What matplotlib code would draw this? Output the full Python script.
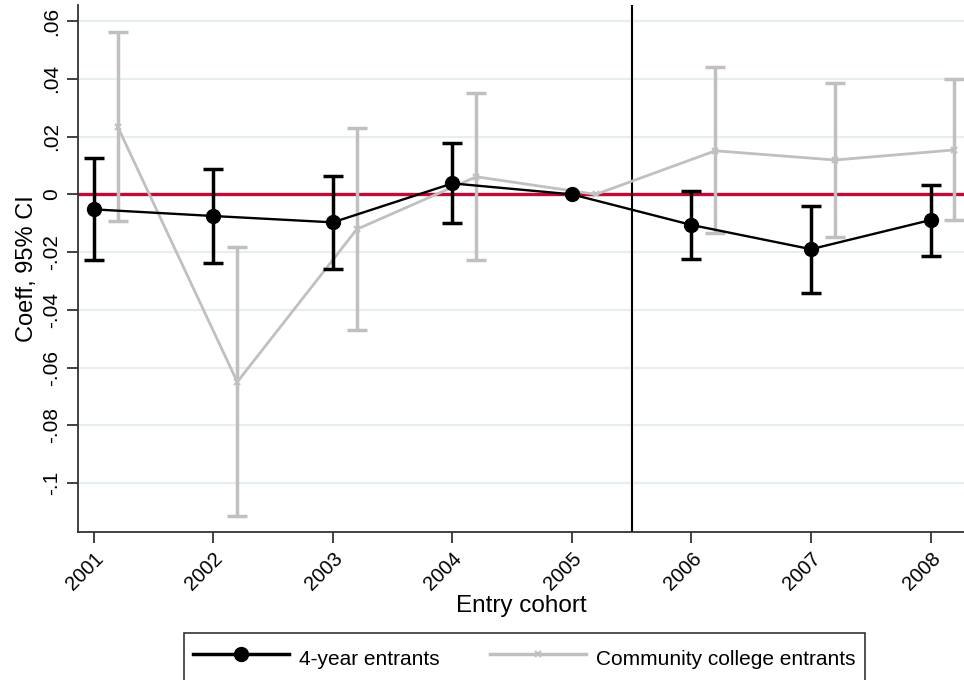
import numpy as np
import matplotlib.pyplot as plt
from matplotlib.lines import Line2D

plt.rcParams['font.family'] = ['Liberation Sans', 'DejaVu Sans']

# event-study coefficients by entry cohort (2005 is the omitted cohort)
years = [2001, 2002, 2003, 2004, 2005, 2006, 2007, 2008]

four_year = [-0.0052, -0.0075, -0.0097, 0.0038, 0.0, -0.0106, -0.0190, -0.0089]
four_year_lo = [-0.0228, -0.0237, -0.0258, -0.0098, 0.0, -0.0225, -0.0343, -0.0213]
four_year_hi = [0.0127, 0.0088, 0.0063, 0.0177, 0.0, 0.0012, -0.0040, 0.0032]

cc = [0.0234, -0.0650, -0.0121, 0.0061, 0.0, 0.0151, 0.0119, 0.0154]
cc_lo = [-0.0091, -0.1115, -0.0470, -0.0228, 0.0, -0.0135, -0.0149, -0.0089]
cc_hi = [0.0564, -0.0184, 0.0229, 0.0350, 0.0, 0.0442, 0.0387, 0.0399]

yticks = [0.06, 0.04, 0.02, 0, -0.02, -0.04, -0.06, -0.08, -0.1]
ytick_labels = ['.06', '.04', '.02', '0', '-.02', '-.04', '-.06', '-.08', '-.1']

GRAY = '#c0c0c0'
RED = '#c20a36'


def draw_series(ax, xs, ys, lo, hi, color, **line_kw):
    xs = np.asarray(xs, dtype=float)
    ys, lo, hi = np.asarray(ys), np.asarray(lo), np.asarray(hi)
    ax.plot(xs, ys, color=color, **line_kw)
    has_ci = lo != hi  # base year carries no interval
    ax.errorbar(xs[has_ci], ys[has_ci],
                yerr=[ys[has_ci] - lo[has_ci], hi[has_ci] - ys[has_ci]],
                fmt='none', ecolor=color, elinewidth=2.5, capsize=7,
                capthick=2.5, zorder=line_kw.get('zorder', 2))


fig = plt.figure(figsize=(9.64, 6.8), dpi=100)
ax = fig.add_axes([0.0812, 0.2176, 0.9188, 0.775])

for y in yticks:
    ax.axhline(y, color='#e6eeee', lw=1.6, zorder=0)
ax.axhline(0, color=RED, lw=2.4, zorder=1)
ax.axvline(2005.5, color='black', lw=1.5, zorder=1)

x = np.array(years, dtype=float)
draw_series(ax, x + 0.2, cc, cc_lo, cc_hi, GRAY,
            lw=2, marker='x', ms=5, mew=1.5, zorder=2)
draw_series(ax, x, four_year, four_year_lo, four_year_hi, 'black',
            lw=1.7, marker='o', ms=10, zorder=3)

ax.set_xlim(2000.87, 2008.28)
ax.set_ylim(-0.117, 0.0656)
ax.set_xticks(years)
ax.set_xticklabels([str(y) for y in years], rotation=45, ha='right',
                   rotation_mode='anchor', fontsize=14.5)
ax.set_yticks(yticks)
ax.set_yticklabels(ytick_labels, rotation=90, va='center', fontsize=15)
ax.tick_params(length=8, width=1.3, color='#333333')
ax.tick_params(axis='y', pad=4)
ax.tick_params(axis='x', pad=4)

for s in ['top', 'right']:
    ax.spines[s].set_visible(False)
for s in ['left', 'bottom']:
    ax.spines[s].set_linewidth(1.3)
    ax.spines[s].set_color('#333333')

ax.set_xlabel('Entry cohort', fontsize=17.5, labelpad=1)
ax.set_ylabel('Coeff, 95% CI', fontsize=17, labelpad=3)

handles = [
    Line2D([], [], color='black', lw=2.5, marker='o', ms=10),
    Line2D([], [], color=GRAY, lw=2.5, marker='x', ms=5, mew=1.5),
]
leg = fig.legend(handles, ['4-year entrants', 'Community college entrants'],
                 loc='upper center', bbox_to_anchor=(0.544, 0.069), ncol=2,
                 fontsize=15, frameon=True, fancybox=False, handlelength=4.6,
                 handleheight=2.0, columnspacing=2.4, borderpad=0.45,
                 handletextpad=0.5, borderaxespad=0)
leg.get_frame().set_edgecolor('black')
leg.get_frame().set_linewidth(1.2)

fig.savefig('out.png', dpi=100)
